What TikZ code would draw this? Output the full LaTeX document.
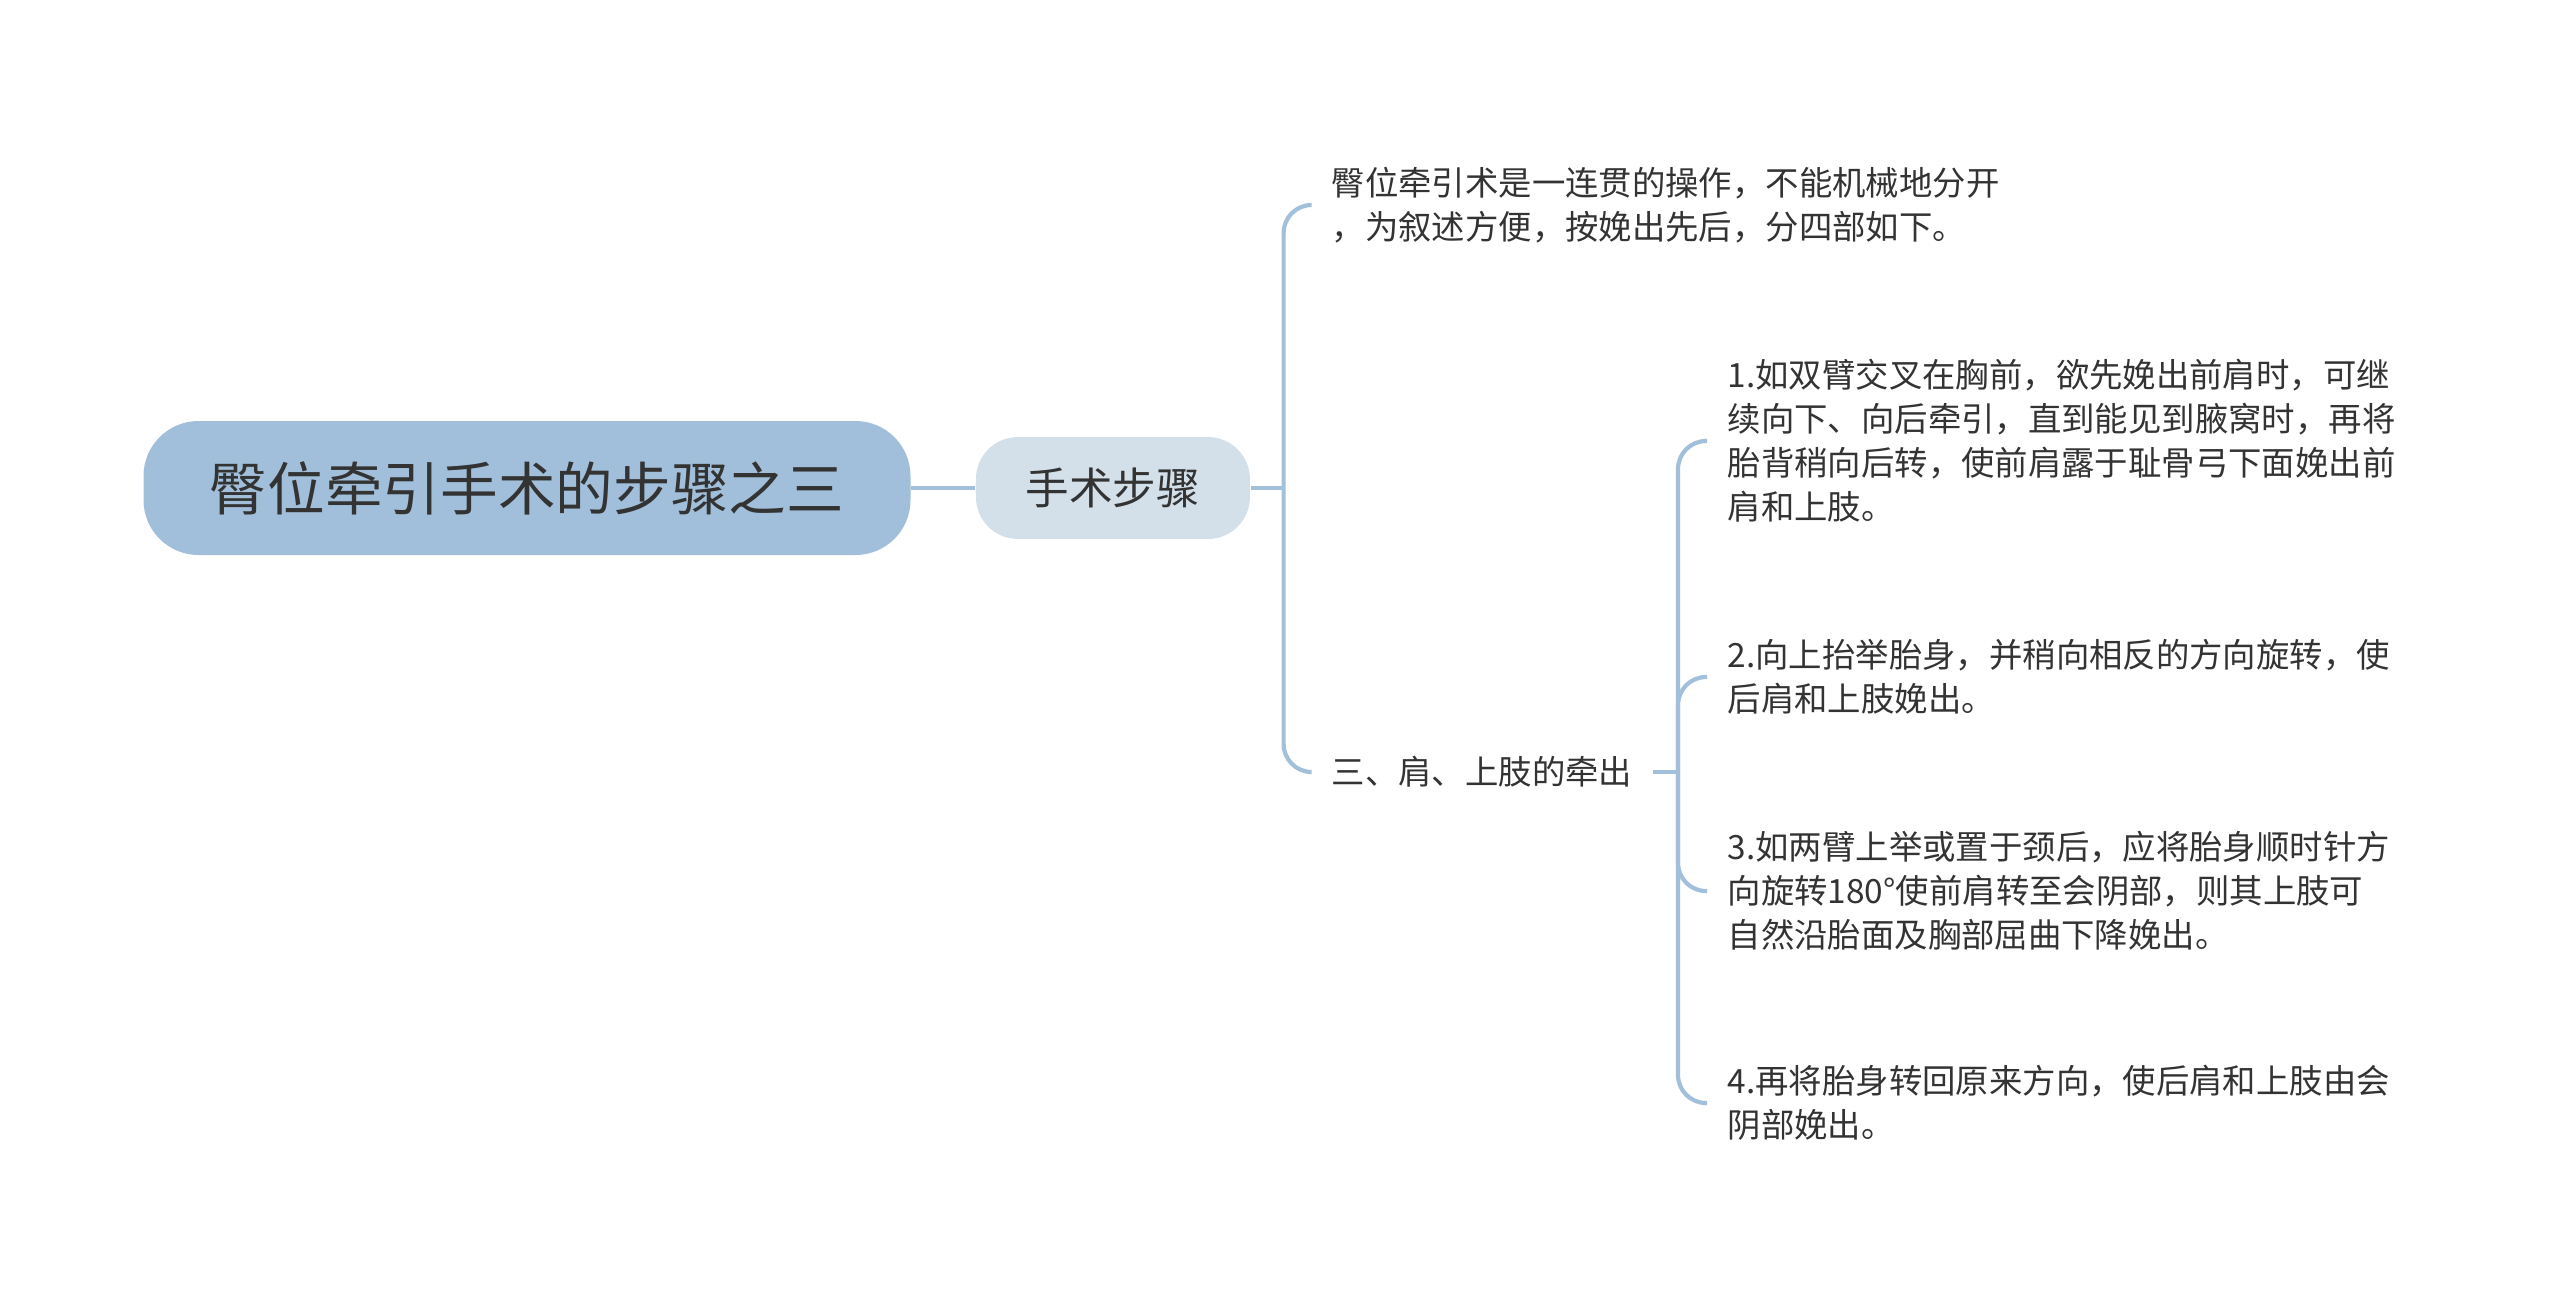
\documentclass[tikz,border=0pt]{standalone}
\usepackage{fontspec}
\newfontfamily\cjk{Noto Sans CJK SC}
\usetikzlibrary{positioning, calc}
\definecolor{rootblue}{RGB}{161,191,218}
\definecolor{subblue}{RGB}{211,224,234}
\definecolor{linkblue}{RGB}{163,192,218}
\definecolor{txtgray}{RGB}{51,51,51}
\tikzset{
  basenode/.style={rectangle,align=center,text=txtgray,font=\cjk},
  rootnode/.style={basenode,fill=rootblue,rounded corners=0.55cm,minimum width=7.67cm,minimum height=1.34cm,font=\cjk\fontsize{16.4pt}{20pt}\selectfont},
  subnode/.style={basenode,fill=subblue,rounded corners=0.42cm,minimum width=2.74cm,minimum height=1.02cm,font=\cjk\fontsize{12.4pt}{15pt}\selectfont},
  leafnode/.style={rectangle,align=left,text=txtgray,inner xsep=0.2cm,inner ysep=0.1cm,font=\cjk\fontsize{9.5pt}{12.5pt}\selectfont},
  link/.style={draw=linkblue,line width=1.2pt},
  bracket/.style={link,rounded corners=0.28cm}
}

\begin{document}
\begin{tikzpicture}
  \useasboundingbox (0,0) rectangle (25.6,-13.07);

  %% Central topic and first branch
  \node[rootnode] (root) at (5.27,-4.88) {臀位牵引手术的步骤之三};
  \node[subnode,right=0.64cm of root] (steps) {手术步骤};
  \coordinate[right=0.33cm of steps] (fork1);

  %% Second level
  \node[leafnode,anchor=west] (intro) at (13.11,-2.05)
    {臀位牵引术是一连贯的操作，不能机械地分开\\，为叙述方便，按娩出先后，分四部如下。};
  \node[leafnode,anchor=west] (part3) at (13.11,-7.72) {三、肩、上肢的牵出};
  \coordinate (fork2) at (16.78,-7.72);

  %% Third level
  \node[leafnode,anchor=west] (st1) at (17.07,-4.41)
    {1.如双臂交叉在胸前，欲先娩出前肩时，可继\\续向下、向后牵引，直到能见到腋窝时，再将\\胎背稍向后转，使前肩露于耻骨弓下面娩出前\\肩和上肢。};
  \node[leafnode,anchor=west] (st2) at (17.07,-6.77)
    {2.向上抬举胎身，并稍向相反的方向旋转，使\\后肩和上肢娩出。};
  \node[leafnode,anchor=west] (st3) at (17.07,-8.91)
    {3.如两臂上举或置于颈后，应将胎身顺时针方\\向旋转180°使前肩转至会阴部，则其上肢可\\自然沿胎面及胸部屈曲下降娩出。};
  \node[leafnode,anchor=west] (st4) at (17.07,-11.03)
    {4.再将胎身转回原来方向，使后肩和上肢由会\\阴部娩出。};

  %% Connectors
  \draw[link] (root) -- (steps);
  \draw[link] (steps) -- (fork1);
  \draw[bracket] (fork1) |- (intro.west);
  \draw[bracket] (fork1) |- (part3.west);
  \draw[link] (part3) -- (fork2);
  \foreach \n in {st1,st2,st3,st4}
    \draw[bracket] (fork2) |- (\n.west);
\end{tikzpicture}
\end{document}
